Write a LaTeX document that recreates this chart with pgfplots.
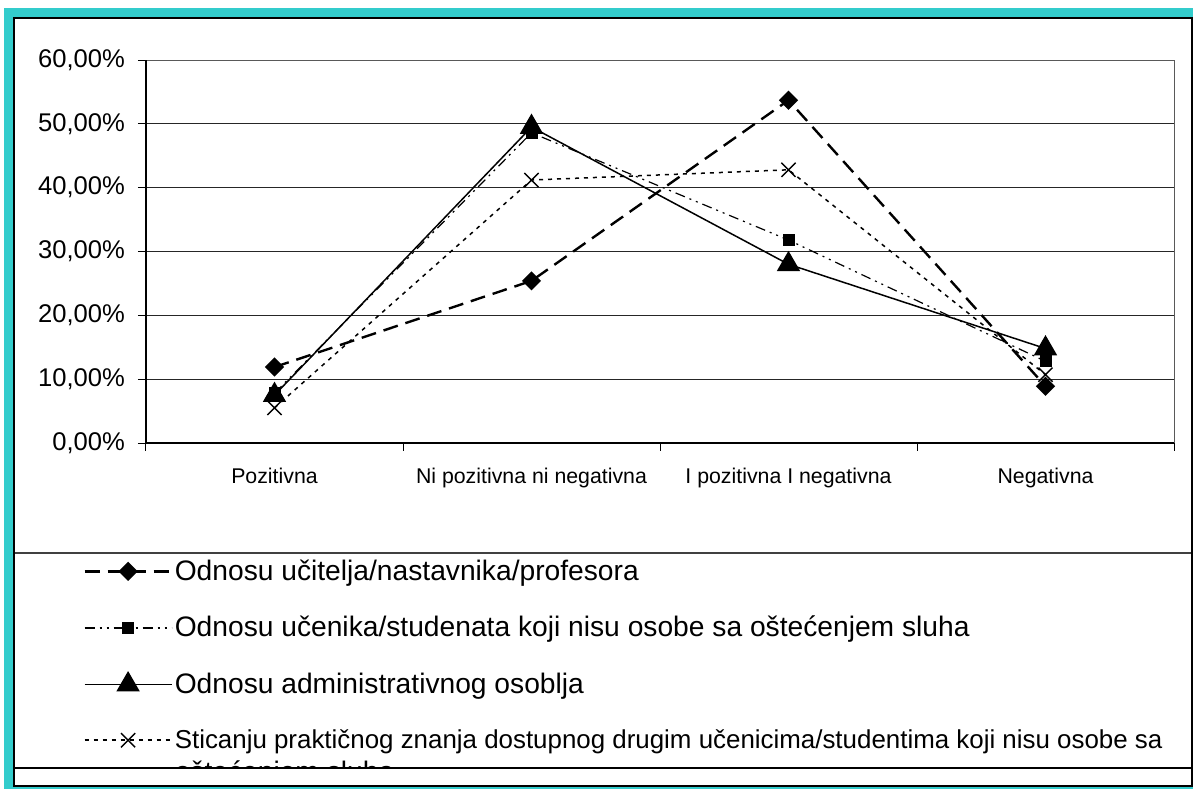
\documentclass[border=0pt]{standalone}
\usepackage{pgfplots}
\pgfplotsset{compat=1.18}
\usepackage{fontspec}
\setmainfont{Liberation Sans}
\definecolor{tealb}{RGB}{51,204,204}
\begin{document}
\begin{tikzpicture}
\fill[white] (0pt,0pt) rectangle (596.5pt,394.5pt);
\fill[tealb] (2pt,0pt) rectangle (596.5pt,390.5pt);
\fill[white] (7pt,1.5pt) rectangle (596pt,385.5pt);
\begin{axis}[
  at={(73pt,173pt)}, anchor=south west,
  scale only axis, width=514pt, height=191.5pt,
  xmin=-0.5, xmax=3.5, ymin=0, ymax=60,
  xtick={0,1,2,3},
  xticklabels={Pozitivna, Ni pozitivna ni negativna, I pozitivna I negativna, Negativna},
  xtick style={draw=none},
  ytick={0,10,20,30,40,50,60},
  yticklabels={{0,00\%},{10,00\%},{20,00\%},{30,00\%},{40,00\%},{50,00\%},{60,00\%}},
  ytick pos=left, xtick pos=bottom,
  tick align=outside,
  major tick length=4pt,
  ytick style={black, line width=0.5pt},
  ymajorgrids, major grid style={black!85, line width=0.5pt},
  axis line style={draw=gray!70!black, line width=0.5pt},
  yticklabel style={font=\fontsize{12.8}{15}\selectfont, xshift=-3pt},
  xticklabel style={font=\fontsize{10.65}{13}\selectfont, yshift=-5pt},
  legend style={at={(-0.0613,-0.298)}, anchor=north west, draw=none, fill=none,
    font=\fontsize{14.1}{16.5}\selectfont, row sep=14.5pt, inner sep=0pt,
    nodes={inner sep=1pt}, cells={anchor=west}},
  legend cell align=left,
  legend image code/.code={%
    \draw[mark repeat=2,mark phase=2,#1] plot coordinates {(0pt,0pt) (21.75pt,0pt) (43.5pt,0pt)};},
  clip=false,
]
\addplot[black, line width=1.2pt, dash pattern=on 7.5pt off 4pt, mark=square*, mark size=2.8pt, mark options={solid, rotate=45}]
  coordinates {(0,11.9) (1,25.4) (2,53.7) (3,8.9)};
\addlegendentry{Odnosu učitelja/nastavnika/profesora}
\addplot[black, line width=0.6pt, dash pattern=on 5pt off 2.5pt on 1pt off 2.5pt on 1pt off 2.5pt, mark=square*, mark size=2.7pt, mark options={solid}]
  coordinates {(0,7.8) (1,48.6) (2,31.8) (3,12.8)};
\addlegendentry{Odnosu učenika/studenata koji nisu osobe sa oštećenjem sluha}
\addplot[black, line width=0.75pt, solid, mark=triangle*, mark size=6pt, mark options={solid}]
  coordinates {(0,7.5) (1,49.5) (2,28.0) (3,14.8)};
\addlegendentry{Odnosu administrativnog osoblja}
\addplot[black, line width=0.75pt, dash pattern=on 2pt off 2.5pt, mark=x, mark size=5pt, mark options={solid, line width=0.7pt}]
  coordinates {(0,5.5) (1,41.2) (2,42.8) (3,10.7)};
\addlegendentry{\smash{\rlap{\raisebox{-16.5pt}{oštećenjem sluha}}}{\fontsize{12.95}{16.5}\selectfont Sticanju praktičnog znanja dostupnog drugim učenicima/studentima koji nisu osobe sa}}
\draw[black, line width=0.6pt] (axis cs:-0.5,0) -- (axis cs:-0.5,60);
\draw[black, line width=0.6pt] (axis cs:-0.5,0) -- (axis cs:3.5,0);
\draw[black, line width=0.5pt] (axis cs:-0.5,0) -- ++(0pt,-4pt);
\draw[black, line width=0.5pt] (axis cs:0.5,0) -- ++(0pt,-4pt);
\draw[black, line width=0.5pt] (axis cs:1.5,0) -- ++(0pt,-4pt);
\draw[black, line width=0.5pt] (axis cs:2.5,0) -- ++(0pt,-4pt);
\draw[black, line width=0.5pt] (axis cs:3.5,0) -- ++(0pt,-4pt);
\end{axis}
\fill[white] (7.4pt,1.9pt) rectangle (595.6pt,10.2pt);
\draw[black, line width=0.6pt] (7pt,10.5pt) -- (596pt,10.5pt);
\draw[black!75, line width=0.6pt] (7pt,118pt) -- (596pt,118pt);
\draw[black, line width=0.6pt] (7pt,1.5pt) rectangle (596pt,385.5pt);
\pgfresetboundingbox
\useasboundingbox (0pt,0pt) rectangle (596.5pt,394.5pt);
\end{tikzpicture}
\end{document}
